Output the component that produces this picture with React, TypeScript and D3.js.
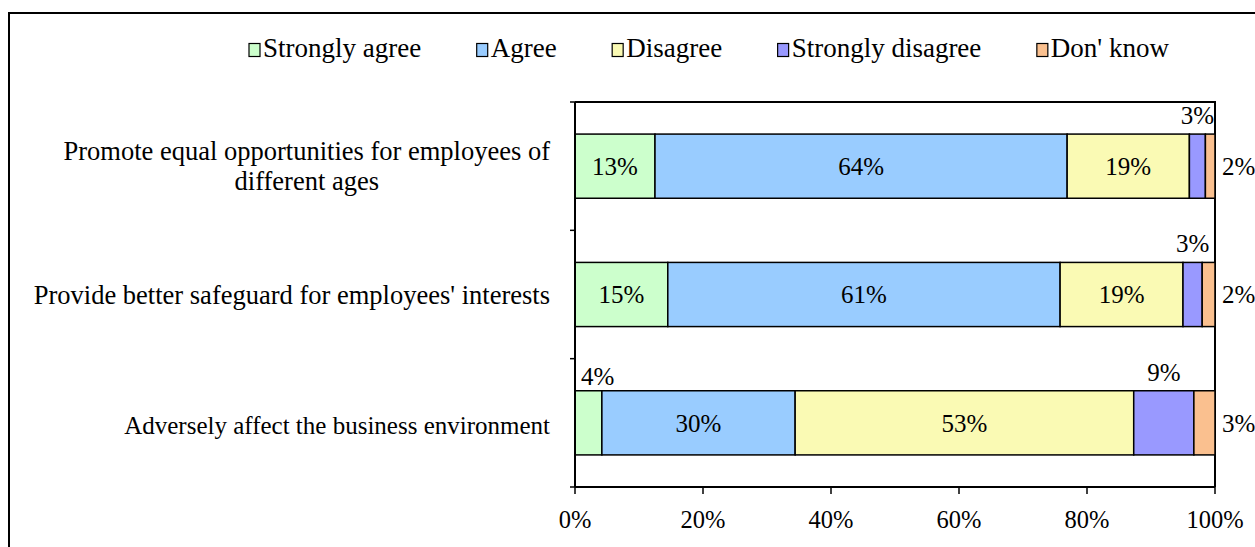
import React, { useEffect, useRef } from "react";
import * as d3 from "d3";

const categories = [
  ["Promote equal opportunities for employees of", "different ages"],
  ["Provide better safeguard for employees' interests"],
  ["Adversely affect the business environment"],
];
const seriesNames = ["Strongly agree", "Agree", "Disagree", "Strongly disagree", "Don' know"];
const seriesColors = ["#CCFFCC", "#99CCFF", "#FAFAB4", "#9999FF", "#FAC08F"];
// values per category, in series order (percent)
const stronglyAgree = [12.5, 14.5, 4.2];
const agree = [64.4, 61.3, 30.2];
const disagree = [19.1, 19.2, 52.9];
const stronglyDisagree = [2.5, 3.0, 9.4];
const dontKnow = [1.5, 2.0, 3.3];
// where each data label goes: inside, above (centred), aboveStart, right
const labelPlacement = [
  ["inside", "inside", "inside", "above", "right"],
  ["inside", "inside", "inside", "above", "right"],
  ["aboveStart", "inside", "inside", "above", "right"],
];
const xTicks = [0, 20, 40, 60, 80, 100];

const W = 1255;
const H = 547;
const FONT = "'Liberation Serif', 'Times New Roman', serif";
const categoryFontSizes = [26.5, 26.5, 25];

export default function App() {
  const ref = useRef<SVGSVGElement | null>(null);

  useEffect(() => {
    const svg = d3.select(ref.current);
    svg.selectAll("*").remove();

    const series = [stronglyAgree, agree, disagree, stronglyDisagree, dontKnow];
    const plot = { left: 575, right: 1215, top: 102, bottom: 487 };

    svg
      .append("rect")
      .attr("x", 9)
      .attr("y", 13)
      .attr("width", W + 20)
      .attr("height", H + 20)
      .attr("fill", "#fff")
      .attr("stroke", "#000")
      .attr("stroke-width", 2);

    const x = d3.scaleLinear().domain([0, 100]).range([plot.left, plot.right]);
    const y = d3
      .scaleBand<number>()
      .domain(d3.range(categories.length))
      .range([plot.top, plot.bottom])
      .padding(0);
    const barH = y.bandwidth() * 0.5;

    svg
      .append("path")
      .attr("d", `M${plot.left},${plot.top}H${plot.right}V${plot.bottom}`)
      .attr("fill", "none")
      .attr("stroke", "#000")
      .attr("stroke-width", 2);

    categories.forEach((_, ci) => {
      let acc = 0;
      const cy = (y(ci) as number) + y.bandwidth() / 2;
      const top = cy - barH / 2;
      series.forEach((s, si) => {
        const v = s[ci];
        const x0 = x(acc);
        const x1 = x(acc + v);
        acc += v;
        svg
          .append("rect")
          .attr("x", x0)
          .attr("y", top)
          .attr("width", x1 - x0)
          .attr("height", barH)
          .attr("fill", seriesColors[si])
          .attr("stroke", "#000")
          .attr("stroke-width", 1.5);
        const label = `${Math.round(v)}%`;
        const place = labelPlacement[ci][si];
        const t = svg
          .append("text")
          .style("font-family", FONT)
          .style("font-size", "25px")
          .attr("fill", "#000")
          .text(label);
        if (place === "inside") {
          t.attr("x", (x0 + x1) / 2)
            .attr("y", cy)
            .attr("dy", "0.35em")
            .attr("text-anchor", "middle");
        } else if (place === "above") {
          t.attr("x", (x0 + x1) / 2)
            .attr("y", top - 10)
            .attr("text-anchor", "middle");
        } else if (place === "aboveStart") {
          t.attr("x", x0 + 6)
            .attr("y", top - 6)
            .attr("text-anchor", "start");
        } else {
          t.attr("x", x1 + 7)
            .attr("y", cy)
            .attr("dy", "0.35em")
            .attr("text-anchor", "start");
        }
      });
    });

    const boundaries = d3.range(categories.length + 1).map((i) => plot.top + i * y.step());
    svg
      .append("line")
      .attr("x1", plot.left)
      .attr("x2", plot.left)
      .attr("y1", plot.top)
      .attr("y2", plot.bottom)
      .attr("stroke", "#000")
      .attr("stroke-width", 2);
    boundaries.forEach((b) => {
      svg
        .append("line")
        .attr("x1", plot.left - 5)
        .attr("x2", plot.left)
        .attr("y1", b)
        .attr("y2", b)
        .attr("stroke", "#000")
        .attr("stroke-width", 1.5);
    });

    svg
      .append("line")
      .attr("x1", plot.left)
      .attr("x2", plot.right)
      .attr("y1", plot.bottom)
      .attr("y2", plot.bottom)
      .attr("stroke", "#000")
      .attr("stroke-width", 2);
    xTicks.forEach((tv) => {
      svg
        .append("line")
        .attr("x1", x(tv))
        .attr("x2", x(tv))
        .attr("y1", plot.bottom)
        .attr("y2", plot.bottom + 7)
        .attr("stroke", "#000")
        .attr("stroke-width", 1.5);
      svg
        .append("text")
        .attr("x", x(tv))
        .attr("y", 528)
        .attr("text-anchor", "middle")
        .style("font-family", FONT)
        .style("font-size", "24.5px")
        .text(`${tv}%`);
    });

    const labelRight = 550;
    const lineH = 30;
    categories.forEach((lines, ci) => {
      const cy = (y(ci) as number) + y.bandwidth() / 2 + (ci === 2 ? 2 : 0);
      const g = svg.append("g");
      const texts = lines.map((ln, li) =>
        g
          .append("text")
          .style("font-family", FONT)
          .style("font-size", `${categoryFontSizes[ci]}px`)
          .attr("text-anchor", "middle")
          .attr("y", cy + (li - (lines.length - 1) / 2) * lineH)
          .attr("dy", "0.35em")
          .text(ln)
      );
      const maxW = d3.max(texts, (t) => (t.node() as SVGTextElement).getComputedTextLength()) || 0;
      texts.forEach((t) => t.attr("x", labelRight - maxW / 2));
    });

    let lx = 249;
    seriesNames.forEach((name, si) => {
      svg
        .append("rect")
        .attr("x", lx)
        .attr("y", 43.5)
        .attr("width", 11)
        .attr("height", 13)
        .attr("fill", seriesColors[si])
        .attr("stroke", "#000")
        .attr("stroke-width", 1.2);
      const t = svg
        .append("text")
        .attr("x", lx + 14)
        .attr("y", 57)
        .style("font-family", FONT)
        .style("font-size", "27px")
        .text(name);
      const w = (t.node() as SVGTextElement).getComputedTextLength();
      lx = lx + 14 + w + 55.5;
    });
  }, []);

  return (
    <svg
      ref={ref}
      width={W}
      height={H}
      style={{ position: "absolute", left: 0, top: 0, background: "#fff" }}
    />
  );
}
